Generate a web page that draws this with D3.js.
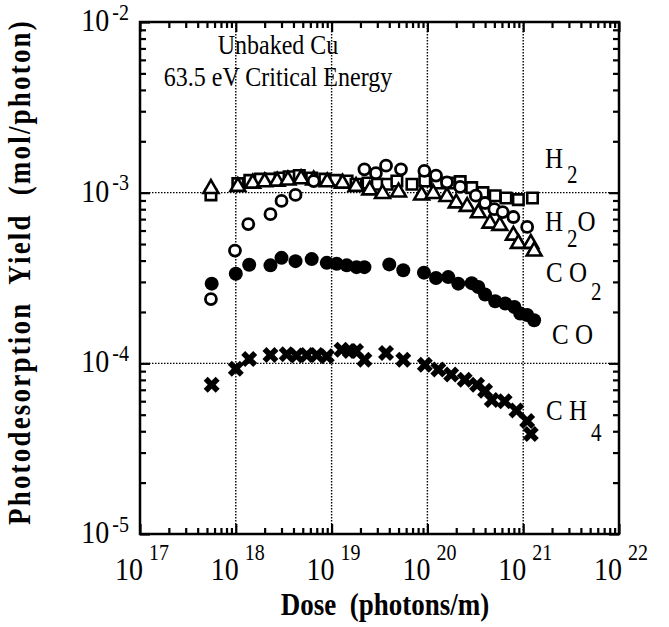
<!DOCTYPE html>
<html>
<head>
<meta charset="utf-8">
<script src="https://cdn.jsdelivr.net/npm/d3@7"></script>
<style>
  body { margin: 0; background: #fff; }
  text { font-family: "Liberation Serif", "Times New Roman", serif; fill: #000; white-space: pre; }
</style>
</head>
<body>
<script>
// dose in photons/m, yield in mol/photon
var h2Dose  = [5.5e17,1.05e18,1.4e18,1.8e18,2.3e18,2.9e18,3.6e18,4.6e18,6.2e18,8.5e18,1.1e19,1.45e19,1.8e19,2.4e19,3.0e19,3.8e19,4.8e19,6.9e19,9.4e19,1.25e20,1.7e20,2.2e20,2.9e20,3.8e20,5.1e20,6.6e20,8.9e20,1.25e21];
var h2Yield = [9.7e-4,1.13e-3,1.18e-3,1.2e-3,1.2e-3,1.22e-3,1.24e-3,1.26e-3,1.22e-3,1.2e-3,1.18e-3,1.17e-3,1.12e-3,1.14e-3,1.12e-3,1.12e-3,1.17e-3,1.12e-3,1.17e-3,1.14e-3,1.14e-3,1.16e-3,1.07e-3,1.0e-3,9.6e-4,9.3e-4,9.1e-4,9.3e-4];

var h2oDose  = [5.5e17,9.8e17,1.35e18,2.3e18,3.0e18,4.2e18,6.5e18,2.2e19,2.9e19,3.7e19,5.3e19,9.3e19,1.23e20,1.6e20,2.2e20,3.2e20,4.0e20,5.0e20,6.1e20,7.9e20,1.1e21];
var h2oYield = [2.38e-4,4.58e-4,6.55e-4,7.48e-4,8.95e-4,9.7e-4,1.17e-3,1.37e-3,1.3e-3,1.44e-3,1.37e-3,1.34e-3,1.26e-3,1.15e-3,1.08e-3,9.6e-4,8.7e-4,8.0e-4,7.7e-4,7.2e-4,6.3e-4];

var co2Dose  = [5.5e17,1.05e18,1.5e18,2.0e18,2.7e18,3.5e18,4.8e18,6.5e18,9e18,1.3e19,1.8e19,2.5e19,3.4e19,5e19,8.7e19,1.15e20,1.6e20,2.0e20,2.6e20,3.4e20,4.5e20,5.7e20,7.9e20,8.9e20,1.2e21,1.3e21];
var co2Yield = [1.07e-3,1.1e-3,1.15e-3,1.17e-3,1.18e-3,1.2e-3,1.22e-3,1.2e-3,1.17e-3,1.15e-3,1.1e-3,1.05e-3,1.0e-3,1.02e-3,9.8e-4,1.0e-3,9.6e-4,8.8e-4,8.4e-4,7.7e-4,6.7e-4,6.5e-4,5.7e-4,5.1e-4,5.1e-4,4.6e-4];

var coDose  = [5.6e17,1.0e18,1.38e18,2.3e18,3.0e18,4.2e18,6.2e18,8.9e18,1.13e19,1.44e19,1.82e19,2.2e19,4.0e19,5.6e19,9.2e19,1.23e20,1.65e20,2.1e20,2.9e20,3.4e20,4.0e20,5.1e20,6.5e20,8.1e20,9.3e20,1.1e21,1.3e21];
var coYield = [2.93e-4,3.35e-4,3.78e-4,3.75e-4,4.15e-4,3.97e-4,4.08e-4,3.88e-4,3.83e-4,3.75e-4,3.66e-4,3.66e-4,3.8e-4,3.51e-4,3.4e-4,3.16e-4,3.2e-4,2.93e-4,2.95e-4,2.8e-4,2.53e-4,2.31e-4,2.24e-4,2.14e-4,1.96e-4,1.92e-4,1.79e-4];

var ch4Dose  = [5.6e17,1.0e18,1.38e18,2.3e18,3.4e18,4.3e18,5.5e18,7e18,8.9e18,1.27e19,1.55e19,1.8e19,2.2e19,3.7e19,5.6e19,9.4e19,1.3e20,1.77e20,2.45e20,3.3e20,4.0e20,4.7e20,6.4e20,8.5e20,1.1e21,1.2e21];
var ch4Yield = [7.5e-5,9.3e-5,1.06e-4,1.12e-4,1.13e-4,1.11e-4,1.12e-4,1.12e-4,1.1e-4,1.2e-4,1.18e-4,1.18e-4,1.05e-4,1.15e-4,1.05e-4,9.8e-5,9.2e-5,8.6e-5,8.0e-5,7.5e-5,6.9e-5,6.1e-5,6.0e-5,5.3e-5,4.6e-5,3.85e-5];

var xTickExp = [17,18,19,20,21,22];
var yTickExp = [-2,-3,-4,-5];

var width = 669, height = 627;
var pLeft = 140, pRight = 619, pTop = 22, pBottom = 534;
var SY = 1.15; // the scanned text is taller than it is wide

var svg = d3.select("body").append("svg").attr("width", width).attr("height", height);

var x = d3.scaleLog().domain([1e17, 1e22]).range([pLeft, pRight]);
var y = d3.scaleLog().domain([1e-5, 1e-2]).range([pBottom, pTop]);

function decadeTicks(lo, hi) {
  var major = [], minor = [];
  for (var e = lo; e <= hi; e++) {
    major.push(Math.pow(10, e));
    if (e < hi) for (var m = 2; m <= 9; m++) minor.push(m * Math.pow(10, e));
  }
  return {major: major, minor: minor};
}
var xt = decadeTicks(17, 22), yt = decadeTicks(-5, -2);

// grid lines at inner decades
var grid = svg.append("g").attr("stroke", "#000").attr("stroke-width", 1.4).attr("stroke-dasharray", "1.5,1.5");
grid.selectAll("line.v").data(xt.major.slice(1, -1)).enter().append("line")
  .attr("x1", function(d){ return x(d); }).attr("x2", function(d){ return x(d); })
  .attr("y1", pTop).attr("y2", pBottom);
grid.selectAll("line.h").data(yt.major.slice(1, -1)).enter().append("line")
  .attr("y1", function(d){ return y(d); }).attr("y2", function(d){ return y(d); })
  .attr("x1", pLeft).attr("x2", pRight);

// inward ticks on all four sides
function addAxis(axisFn, scale, vals, len, transform) {
  var g = svg.append("g").attr("transform", transform)
    .call(axisFn(scale).tickValues(vals).tickSize(len).tickFormat(""));
  g.select(".domain").remove();
  g.selectAll(".tick line").attr("stroke", "#000").attr("stroke-width", 2.2);
}
addAxis(d3.axisBottom, x, xt.major, -10, "translate(0," + pBottom + ")");
addAxis(d3.axisBottom, x, xt.minor, -6, "translate(0," + pBottom + ")");
addAxis(d3.axisTop, x, xt.major, -10, "translate(0," + pTop + ")");
addAxis(d3.axisTop, x, xt.minor, -6, "translate(0," + pTop + ")");
addAxis(d3.axisLeft, y, yt.major, -10, "translate(" + pLeft + ",0)");
addAxis(d3.axisLeft, y, yt.minor, -6, "translate(" + pLeft + ",0)");
addAxis(d3.axisRight, y, yt.major, -10, "translate(" + pRight + ",0)");
addAxis(d3.axisRight, y, yt.minor, -6, "translate(" + pRight + ",0)");

svg.append("rect").attr("x", pLeft).attr("y", pTop).attr("width", pRight - pLeft).attr("height", pBottom - pTop)
  .attr("fill", "none").attr("stroke", "#000").attr("stroke-width", 2.5);

// text helper
function txt(xp, yp, anchor) {
  return svg.append("text").attr("text-anchor", anchor || "start")
    .attr("transform", "translate(" + xp + "," + yp + ") scale(1," + SY + ")");
}

// tick labels
xTickExp.forEach(function(e) {
  var t = txt(x(Math.pow(10, e)) + 2, 580, "middle").attr("font-size", 28);
  t.append("tspan").text("10");
  t.append("tspan").attr("dx", 6).attr("dy", -17).attr("font-size", 20).text(e);
});
yTickExp.forEach(function(e) {
  var t = txt(pLeft - 11, y(Math.pow(10, e)) + 9, "end").attr("font-size", 28);
  t.append("tspan").text("10");
  t.append("tspan").attr("dx", 3).attr("dy", -10).attr("font-size", 20).text(e);
});

// axis titles
txt(385, 615, "middle").attr("font-size", 27).attr("font-weight", "bold").text("Dose  (photons/m)");
svg.append("text").attr("text-anchor", "middle").attr("font-size", 27).attr("font-weight", "bold")
  .attr("letter-spacing", 2.2)
  .attr("transform", "translate(30,272) rotate(-90) scale(1," + SY + ")")
  .text("Photodesorption  Yield  (mol/photon)");

// annotation
txt(278, 54, "middle").attr("font-size", 24).text("Unbaked Cu");
txt(278, 86, "middle").attr("font-size", 24).text("63.5 eV Critical Energy");

// series labels with subscripts
function chemLabel(xp, yp, parts) {
  var t = txt(xp, yp).attr("font-size", 25);
  parts.forEach(function(p) {
    var s = t.append("tspan").text(p[0]);
    if (p[1]) s.attr("font-size", 21).attr("dy", p[1]).attr("dx", 4);
    if (p[2]) s.attr("dy", p[2]);
  });
}
chemLabel(545, 168, [["H"], ["2", 13]]);
chemLabel(545, 231, [["H"], ["2", 14], ["O", 0, -14]]);
chemLabel(546, 282, [["C O"], ["2", 16]]);
chemLabel(552, 344, [["C O"]]);
chemLabel(546, 420, [["C H"], ["4", 18]]);

// markers
var plot = svg.append("g");
function pts(dose, yld) { return dose.map(function(d, i){ return [x(d), y(yld[i])]; }); }

plot.selectAll("path.h2").data(pts(h2Dose, h2Yield)).enter().append("path")
  .attr("d", d3.symbol().type(d3.symbolSquare).size(110))
  .attr("transform", function(d){ return "translate(" + d[0] + "," + d[1] + ")"; })
  .attr("fill", "#fff").attr("stroke", "#000").attr("stroke-width", 2.6);

plot.selectAll("path.co2").data(pts(co2Dose, co2Yield)).enter().append("path")
  .attr("d", d3.symbol().type(d3.symbolTriangle).size(95))
  .attr("transform", function(d){ return "translate(" + d[0] + "," + (d[1] + 1) + ")"; })
  .attr("fill", "#fff").attr("stroke", "#000").attr("stroke-width", 2.6);

plot.selectAll("circle.h2o").data(pts(h2oDose, h2oYield)).enter().append("circle")
  .attr("cx", function(d){ return d[0]; }).attr("cy", function(d){ return d[1]; })
  .attr("r", 5.5).attr("fill", "#fff").attr("stroke", "#000").attr("stroke-width", 2.8);

plot.selectAll("circle.co").data(pts(coDose, coYield)).enter().append("circle")
  .attr("cx", function(d){ return d[0]; }).attr("cy", function(d){ return d[1]; })
  .attr("r", 7).attr("fill", "#000");

plot.selectAll("path.ch4").data(pts(ch4Dose, ch4Yield)).enter().append("path")
  .attr("d", d3.symbol().type(d3.symbolCross).size(160))
  .attr("transform", function(d){ return "translate(" + d[0] + "," + d[1] + ") rotate(45)"; })
  .attr("fill", "#000");
</script>
</body>
</html>
